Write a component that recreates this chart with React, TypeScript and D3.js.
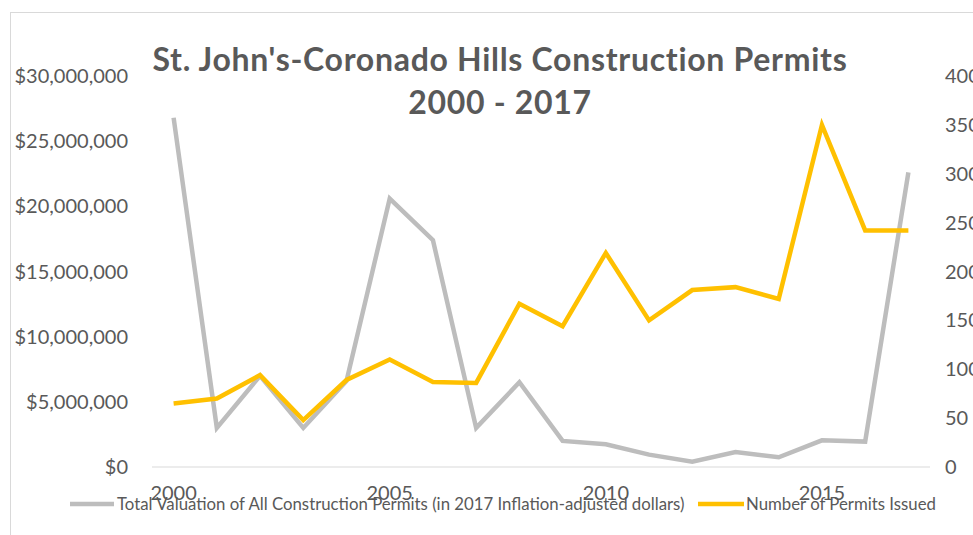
import * as d3 from "d3";

// ── Data ─────────────────────────────────────────────
const YEARS = d3.range(2000, 2018).map(String);
const VALUATION = [
  26800000, 3000000, 7000000, 3000000, 6600000, 20600000, 17400000, 3000000, 6500000,
  2000000, 1750000, 950000, 400000, 1150000, 750000, 2050000, 1950000, 22600000,
];
const PERMITS = [65, 70, 94, 48, 89, 110, 87, 86, 167, 144, 219, 150, 181, 184, 172, 350, 242, 242];
const LEFT_TICKS = [0, 5000000, 10000000, 15000000, 20000000, 25000000, 30000000];
const RIGHT_TICKS = [0, 50, 100, 150, 200, 250, 300, 350, 400];
const X_LABELS = ["2000", "2005", "2010", "2015"];

const TITLE = ["St. John's-Coronado Hills Construction Permits", "2000 - 2017"];
const LEGEND_GREY = "Total Valuation of All Construction Permits (in 2017 Inflation-adjusted dollars)";
const LEGEND_GOLD = "Number of Permits Issued";

// ── Dimensions ───────────────────────────────────────
const width = 973;
const height = 535;
const plot = { left: 152, right: 930, top: 76, bottom: 467 };
const FONT = "Lato, 'Open Sans', sans-serif";
const TEXT = "#595959";
const GREY = "#BDBDBD";
const GOLD = "#FFC000";

export default function App() {
  const x = d3.scaleBand().domain(YEARS).range([plot.left, plot.right]);
  const cx = (yr: string) => (x(yr) ?? 0) + x.bandwidth() / 2;
  const yL = d3.scaleLinear().domain([0, 30000000]).range([plot.bottom, plot.top]);
  const yR = d3.scaleLinear().domain([0, 400]).range([plot.bottom, plot.top]);

  const greyLine = d3.line<number>().x((_, i) => cx(YEARS[i])).y((d) => yL(d))(VALUATION) ?? "";
  const goldLine = d3.line<number>().x((_, i) => cx(YEARS[i])).y((d) => yR(d))(PERMITS) ?? "";
  const money = d3.format("$,");

  return (
    <svg width={width} height={height} style={{ position: "absolute", left: 0, top: 0 }}
      fontFamily={FONT}>
      <rect x={0} y={0} width={width} height={height} fill="#fff" />
      <rect x={10.5} y={12.5} width={width} height={height} fill="none" stroke="#D9D9D9" strokeWidth={1} />

      {/* title */}
      <text x={500} y={71} textAnchor="middle" fontSize={32} fontWeight={700} letterSpacing={0.7} fill={TEXT}>{TITLE[0]}</text>
      <text x={500} y={114} textAnchor="middle" fontSize={32} fontWeight={700} letterSpacing={0.7} fill={TEXT}>{TITLE[1]}</text>

      {/* baseline */}
      <line x1={plot.left} x2={plot.right} y1={plot.bottom} y2={plot.bottom} stroke="#D9D9D9" strokeWidth={1} />

      {/* left axis */}
      {LEFT_TICKS.map((t) => (
        <text key={t} x={128} y={yL(t)} dy="0.35em" textAnchor="end" fontSize={20} fill={TEXT}>{money(t)}</text>
      ))}

      {/* right axis */}
      {RIGHT_TICKS.map((t) => (
        <text key={t} x={945} y={yR(t)} dy="0.35em" textAnchor="start" fontSize={20} fill={TEXT}>{t}</text>
      ))}

      {/* lines */}
      <path d={greyLine} fill="none" stroke={GREY} strokeWidth={4.5} strokeLinejoin="miter" />
      <path d={goldLine} fill="none" stroke={GOLD} strokeWidth={4.5} strokeLinejoin="miter" />

      {/* x labels */}
      {X_LABELS.map((yr) => (
        <text key={yr} x={cx(yr)} y={500} textAnchor="middle" fontSize={20} fill={TEXT}>{yr}</text>
      ))}

      {/* legend */}
      <line x1={70} x2={114} y1={504} y2={504} stroke={GREY} strokeWidth={4.5} />
      <text x={117} y={504} dy="0.35em" fontSize={16.8} fill={TEXT}>{LEGEND_GREY}</text>
      <line x1={698} x2={744} y1={504} y2={504} stroke={GOLD} strokeWidth={4.5} />
      <text x={746} y={504} dy="0.35em" fontSize={16.8} fill={TEXT}>{LEGEND_GOLD}</text>
    </svg>
  );
}
